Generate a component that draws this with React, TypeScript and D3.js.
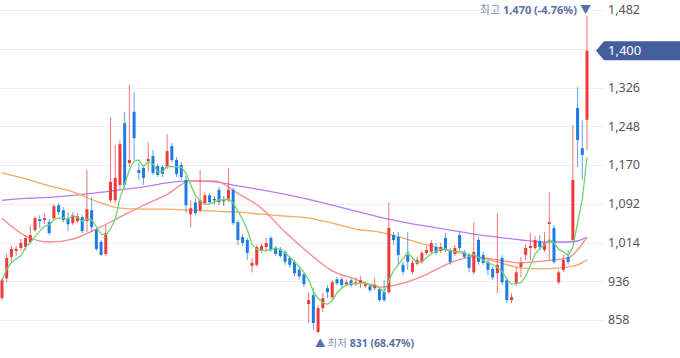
import React from 'react';
import * as d3 from 'd3';

const opens = [902,942,985,997,1003,1005,1015,1039,1061,1059,1055,1063,1089,1079,1063,1053,1057,1065,1057,1079,1039,1015,991,1099,1099,1130,1254,1174,1277,1160,1164,1178,1188,1168,1166,1166,1208,1180,1170,1140,1071,1095,1079,1093,1109,1101,1120,1099,1099,1120,1055,1025,1019,967,969,997,1005,1023,1003,1001,995,983,975,959,950,890,908,834,882,922,904,940,940,930,938,930,932,926,926,922,920,914,914,1029,1025,969,989,955,971,975,993,995,1005,997,1023,999,991,1029,995,989,954,1019,989,975,961,952,983,938,898,932,965,989,1003,1003,1017,999,1051,1043,934,959,985,1019,1285,1204,1261];
const highs = [942,991,1007,1007,1021,1029,1047,1067,1069,1073,1061,1091,1093,1085,1075,1075,1073,1069,1160,1105,1043,1019,1049,1266,1210,1220,1277,1331,1317,1174,1170,1216,1200,1172,1170,1232,1214,1186,1176,1148,1099,1103,1160,1115,1113,1107,1126,1107,1164,1124,1059,1031,1023,983,1009,1011,1023,1027,1007,1005,999,987,979,965,954,914,922,888,912,928,938,944,944,940,942,944,946,936,930,942,924,938,1095,1035,1035,975,1035,979,985,997,1007,1019,1013,1013,1033,1003,1009,1035,999,993,1055,1025,995,979,965,1073,989,944,912,963,985,1011,1033,1027,1029,1035,1115,1049,958,989,999,1250,1327,1261,1470];
const lows = [898,934,975,987,999,999,1011,1035,1043,1051,1029,1059,1069,1055,1037,1049,1053,1033,1035,1035,997,987,987,1095,1093,1120,1124,1166,1180,1140,1130,1156,1150,1146,1146,1162,1176,1146,1140,1073,1045,1069,1075,1089,1091,1091,1089,1087,1095,1049,1009,1007,979,954,965,993,995,995,987,983,969,963,946,940,924,852,838,831,874,902,900,928,924,926,924,926,922,922,914,918,894,894,910,1009,969,948,959,950,967,971,989,991,989,993,995,969,987,999,981,954,950,969,969,948,938,912,928,892,892,926,944,979,979,999,999,995,979,971,930,955,969,1015,1166,1140,1200];
const closes = [938,983,1001,1001,1013,1023,1029,1063,1057,1063,1033,1087,1075,1059,1051,1069,1067,1037,1081,1045,1001,989,1033,1136,1144,1212,1130,1180,1224,1154,1144,1182,1154,1150,1152,1198,1180,1152,1146,1089,1083,1073,1099,1109,1095,1101,1095,1099,1120,1053,1019,1013,993,973,1005,1007,1013,999,991,987,975,969,952,946,930,898,852,882,902,914,934,932,928,934,928,934,938,930,918,928,898,898,1043,1019,989,955,975,973,979,993,999,1013,993,1005,999,975,1003,1003,985,963,995,975,973,959,944,969,934,898,904,954,973,1003,1007,1019,1005,1013,1055,975,954,979,975,1140,1220,1190,1400];

const maIdx = [0,5,10,15,20,25,30,35,40,45,50,55,60,65,70,75,80,85,90,95,100,105,110,115,120,122,124];
const ma20 = [1063,1027,1015,1021,1041,1065,1089,1111,1138,1138,1113,1083,1035,993,957,940,924,932,950,973,985,979,973,977,983,999,1025];
const ma60 = [1154,1142,1128,1116,1097,1083,1081,1081,1079,1077,1075,1071,1067,1063,1053,1041,1035,1023,1009,997,987,975,963,961,965,969,979];
const ma120 = [1099,1103,1105,1109,1114,1120,1126,1134,1138,1136,1128,1120,1111,1101,1089,1077,1065,1055,1047,1039,1031,1025,1019,1015,1015,1017,1025];

const yTicks = [858, 936, 1014, 1092, 1170, 1248, 1326, 1404, 1482];

const UP = '#ee3a3c';
const DOWN = '#1c7ce6';

export default function App() {
  const W = 680, H = 358;
  const n = closes.length;
  const x = d3.scaleLinear().domain([0, n - 1]).range([2, 587]);
  const y = d3.scaleLinear().domain([858, 1482]).range([320, 10]);
  const fmt = d3.format(',');

  const ma5 = closes.map((_, i) => {
    const s = closes.slice(Math.max(0, i - 4), i + 1);
    return d3.mean(s) as number;
  });

  const lineIdx = d3.line<number>().x((_, i) => x(i)).y(d => y(d));
  const lineSmooth = (vals: number[]) =>
    d3.line<number>().x((_, i) => x(maIdx[i])).y(d => y(d)).curve(d3.curveMonotoneX)(vals) as string;

  const last = closes[n - 1];
  const iMax = d3.maxIndex(highs);
  const iMin = d3.minIndex(lows);
  const maxV = highs[iMax];
  const minV = lows[iMin];
  const pctMax = ((last - maxV) / maxV * 100).toFixed(2);
  const pctMin = ((last - minV) / minV * 100).toFixed(2);

  const tagY = y(last);
  const font = '"Noto Sans", "Noto Sans CJK KR", sans-serif';

  return (
    <div style={{ position: 'fixed', left: 0, top: 0 }}>
      <svg width={W} height={H} style={{ display: 'block', background: '#fff' }}>
        <defs>
          <clipPath id="plot"><rect x={0} y={0} width={602} height={H} /></clipPath>
        </defs>
        {yTicks.map(t => (
          <line key={'g' + t} x1={0} x2={603} y1={Math.round(y(t)) + 0.5} y2={Math.round(y(t)) + 0.5} stroke="#eef0f5" strokeWidth={1} />
        ))}
        {yTicks.filter(t => Math.abs(y(t) - tagY) > 12).map(t => (
          <text key={'t' + t} x={608} y={y(t)} dy="0.35em" fontSize={12.5} fill="#555" fontFamily={font}>{fmt(t)}</text>
        ))}
        <g clipPath="url(#plot)">
          <path d={lineSmooth(ma120)} fill="none" stroke="#b77cf2" strokeWidth={1.3} />
          <path d={lineSmooth(ma60)} fill="none" stroke="#f8a964" strokeWidth={1.3} />
          <path d={lineSmooth(ma20)} fill="none" stroke="#f7898a" strokeWidth={1.3} />
          {closes.map((c, i) => {
            const o = opens[i];
            const col = c > o ? UP : c < o ? DOWN : '#333';
            const cx = x(i);
            const top = y(Math.max(o, c));
            const bot = y(Math.min(o, c));
            return (
              <g key={i}>
                <line x1={cx} x2={cx} y1={y(highs[i])} y2={y(lows[i])} stroke={col} strokeWidth={1} strokeOpacity={0.7} />
                <rect x={cx - 1.5} y={top} width={3} height={Math.max(1, bot - top)} fill={col} />
              </g>
            );
          })}
          <path d={lineIdx(ma5) as string} fill="none" stroke="#6fd46f" strokeWidth={1.3} />
        </g>
        <path d={`M596,${tagY} L604,${tagY - 9.5} L680,${tagY - 9.5} L680,${tagY + 9.5} L604,${tagY + 9.5} Z`} fill="#435e9c" />
        <text x={608} y={tagY} dy="0.36em" fontSize={13} fill="#fff" fontFamily={font}>{fmt(last)}</text>
        <text x={x(iMax) + 4} y={10} dy="0.35em" textAnchor="end" fontSize={11} fontFamily={font}>
          <tspan fill="#8193bd">최고 </tspan>
          <tspan fill="#5b70a8" fontWeight="bold">{fmt(maxV)} ({pctMax}%)</tspan>
          <tspan fill="#5b70a8" dx={3}>▼</tspan>
        </text>
        <text x={x(iMin) - 3} y={343} dy="0.35em" fontSize={10.5} fontFamily={font}>
          <tspan fill="#5b70a8">▲</tspan>
          <tspan fill="#8193bd" dx={2}>최저 </tspan>
          <tspan fill="#5b70a8" fontWeight="bold">{fmt(minV)} ({pctMin}%)</tspan>
        </text>
      </svg>
    </div>
  );
}
